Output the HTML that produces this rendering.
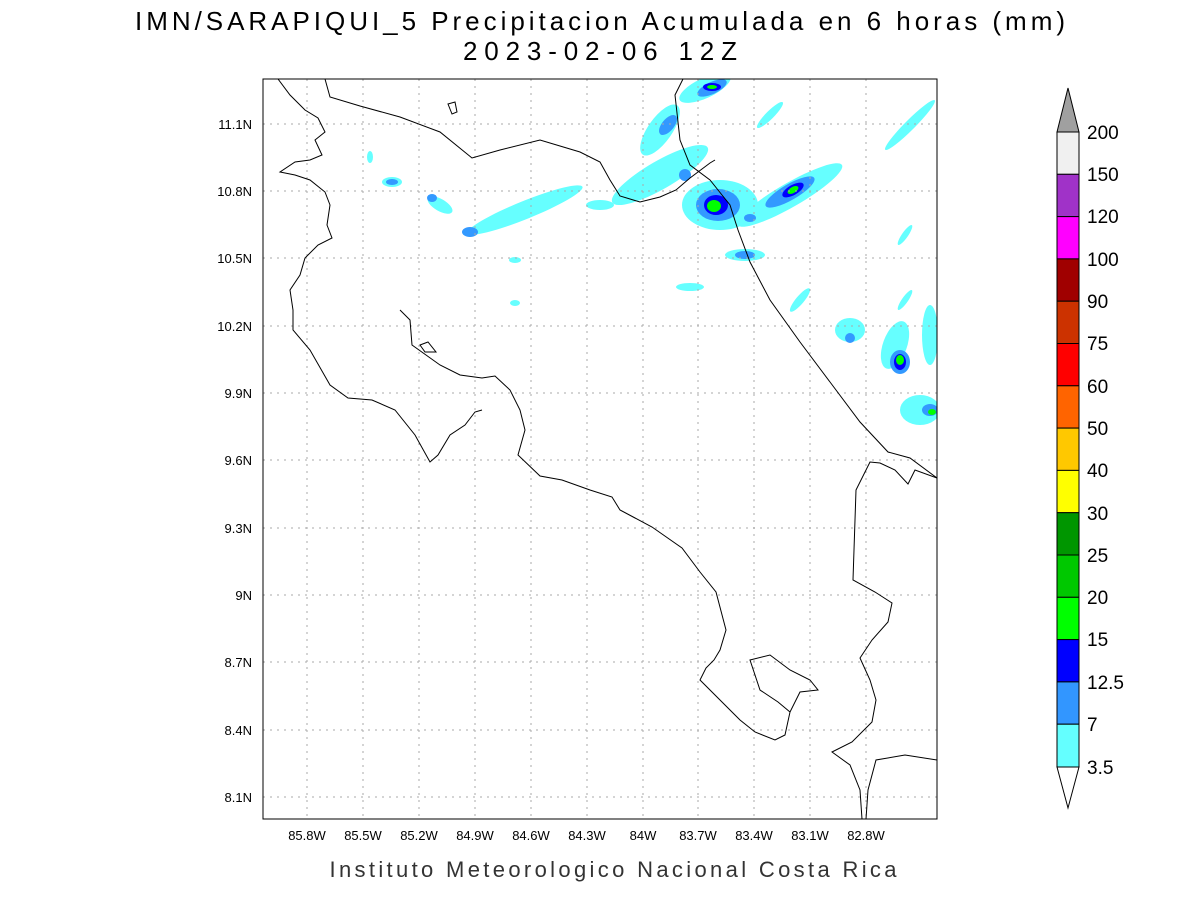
<!DOCTYPE html>
<html><head><style>
body{margin:0;background:#fff;width:1200px;height:900px;overflow:hidden}
text{font-family:"Liberation Sans",sans-serif}
</style></head><body>
<svg width="1200" height="900" xmlns="http://www.w3.org/2000/svg">
<text x="600" y="30" font-size="26" text-anchor="middle" fill="#000" textLength="930">IMN/SARAPIQUI_5 Precipitacion Acumulada en 6 horas (mm)</text>
<text x="600" y="60" font-size="26" text-anchor="middle" fill="#000" textLength="274">2023-02-06 12Z</text>
<defs><clipPath id="c"><rect x="263" y="79" width="674" height="740"/></clipPath></defs>
<g clip-path="url(#c)">
<g fill="#66ffff">
<ellipse cx="525" cy="210" rx="62" ry="9" transform="rotate(-22 525 210)"/>
<ellipse cx="440" cy="205" rx="14" ry="6" transform="rotate(30 440 205)"/>
<ellipse cx="392" cy="182" rx="10" ry="5"/>
<ellipse cx="370" cy="157" rx="3" ry="6"/>
<ellipse cx="600" cy="205" rx="14" ry="5"/>
<ellipse cx="660" cy="130" rx="30" ry="12" transform="rotate(-55 660 130)"/>
<ellipse cx="705" cy="88" rx="28" ry="10" transform="rotate(-25 705 88)"/>
<ellipse cx="660" cy="175" rx="55" ry="14" transform="rotate(-30 660 175)"/>
<ellipse cx="720" cy="205" rx="38" ry="25"/>
<ellipse cx="790" cy="195" rx="60" ry="12" transform="rotate(-30 790 195)"/>
<ellipse cx="770" cy="115" rx="18" ry="4" transform="rotate(-45 770 115)"/>
<ellipse cx="745" cy="255" rx="20" ry="6"/>
<ellipse cx="690" cy="287" rx="14" ry="4"/>
<ellipse cx="910" cy="125" rx="35" ry="5" transform="rotate(-45 910 125)"/>
<ellipse cx="905" cy="235" rx="12" ry="3" transform="rotate(-55 905 235)"/>
<ellipse cx="895" cy="345" rx="12" ry="25" transform="rotate(20 895 345)"/>
<ellipse cx="920" cy="410" rx="20" ry="15"/>
<ellipse cx="930" cy="335" rx="8" ry="30"/>
<ellipse cx="850" cy="330" rx="15" ry="12"/>
<ellipse cx="905" cy="300" rx="12" ry="3" transform="rotate(-55 905 300)"/>
<ellipse cx="800" cy="300" rx="15" ry="4" transform="rotate(-50 800 300)"/>
<ellipse cx="515" cy="303" rx="5" ry="3"/><ellipse cx="515" cy="260" rx="6" ry="3"/>
</g>
<g fill="#3399ff">
<ellipse cx="392" cy="182" rx="6" ry="3"/><ellipse cx="432" cy="198" rx="5" ry="4"/>
<ellipse cx="470" cy="232" rx="8" ry="5"/>
<ellipse cx="668" cy="125" rx="12" ry="6" transform="rotate(-50 668 125)"/>
<ellipse cx="712" cy="88" rx="16" ry="6" transform="rotate(-25 712 88)"/>
<ellipse cx="718" cy="205" rx="22" ry="16"/>
<ellipse cx="790" cy="192" rx="28" ry="8" transform="rotate(-30 790 192)"/>
<ellipse cx="685" cy="175" rx="6" ry="6"/><ellipse cx="750" cy="218" rx="6" ry="4"/>
<ellipse cx="900" cy="362" rx="10" ry="12"/><ellipse cx="930" cy="410" rx="8" ry="6"/>
<ellipse cx="850" cy="338" rx="5" ry="5"/><ellipse cx="745" cy="255" rx="10" ry="4"/>
</g>
<g fill="#0000ff"><ellipse cx="716" cy="205" rx="12" ry="10"/><ellipse cx="712" cy="87" rx="9" ry="4"/><ellipse cx="900" cy="362" rx="6" ry="8"/><ellipse cx="793" cy="190" rx="12" ry="5" transform="rotate(-30 793 190)"/></g>
<g fill="#00ff00"><ellipse cx="714" cy="206" rx="7" ry="6"/><ellipse cx="712" cy="87" rx="5" ry="2"/><ellipse cx="900" cy="360" rx="4" ry="5"/><ellipse cx="793" cy="190" rx="6" ry="3" transform="rotate(-30 793 190)"/><ellipse cx="932" cy="412" rx="4" ry="3"/></g>
<g stroke="#aaa" stroke-dasharray="2,5" stroke-width="1">
<line x1="307" y1="79" x2="307" y2="819"/><line x1="363" y1="79" x2="363" y2="819"/><line x1="419" y1="79" x2="419" y2="819"/><line x1="475" y1="79" x2="475" y2="819"/><line x1="531" y1="79" x2="531" y2="819"/><line x1="587" y1="79" x2="587" y2="819"/><line x1="643" y1="79" x2="643" y2="819"/><line x1="698" y1="79" x2="698" y2="819"/><line x1="754" y1="79" x2="754" y2="819"/><line x1="810" y1="79" x2="810" y2="819"/><line x1="866" y1="79" x2="866" y2="819"/>
<line x1="263" y1="124" x2="937" y2="124"/><line x1="263" y1="191" x2="937" y2="191"/><line x1="263" y1="258" x2="937" y2="258"/><line x1="263" y1="326" x2="937" y2="326"/><line x1="263" y1="393" x2="937" y2="393"/><line x1="263" y1="460" x2="937" y2="460"/><line x1="263" y1="528" x2="937" y2="528"/><line x1="263" y1="595" x2="937" y2="595"/><line x1="263" y1="662" x2="937" y2="662"/><line x1="263" y1="730" x2="937" y2="730"/><line x1="263" y1="797" x2="937" y2="797"/>
</g>
<g fill="none" stroke="#000" stroke-width="1">
<polyline points="278,79 290,95 305,110 318,118 325,132 315,140 322,155 310,160 295,162 280,172 295,175 310,180 325,192 330,205 327,225 332,238 318,245 305,258 300,275 290,290 293,310 293,330 310,350 330,385 348,398 372,400 395,410 415,435 430,462 438,455 450,435 465,425 475,412 482,410"/>
<polyline points="400,310 410,320 412,345 440,365 460,375 482,378 495,376 510,390 520,410 525,430 518,455 540,476 562,480 590,490 612,497 620,510 652,527 682,548 700,572 716,592 726,630 720,650 714,660 706,668 700,680 720,700 740,720 755,732 775,740 785,735 790,712 800,692 818,690 810,680 790,670 770,655 750,660 755,675 760,690 778,702 790,712"/>
<polyline points="325,79 330,97 360,106 400,117 440,132 472,158 500,150 540,140 560,146 580,152 600,162 610,180 620,196 640,202 660,197 676,190 690,178 710,163 715,160"/>
<polyline points="683,79 675,95 680,140 690,165 710,180 722,195 730,205 738,230 750,262 770,300 800,342 830,382 860,422 888,452 910,458 937,478"/>
<polyline points="937,478 915,470 908,484 895,470 880,463 870,462 856,490 853,580 875,592 892,603 888,622 872,640 860,658 870,680 876,700 872,722 852,742 832,752 850,765 860,790 862,819"/>
<polyline points="866,819 868,790 876,760 905,755 937,760"/>
<polygon points="448,104 455,102 457,112 452,114"/>
<polygon points="420,345 428,342 436,352 425,352"/>
</g>
</g>
<rect x="263" y="79" width="674" height="740" fill="none" stroke="#000" stroke-width="1"/>
<g font-size="13" fill="#000" text-anchor="middle">
<text x="307" y="840">85.8W</text><text x="363" y="840">85.5W</text><text x="419" y="840">85.2W</text><text x="475" y="840">84.9W</text><text x="531" y="840">84.6W</text><text x="587" y="840">84.3W</text><text x="643" y="840">84W</text><text x="698" y="840">83.7W</text><text x="754" y="840">83.4W</text><text x="810" y="840">83.1W</text><text x="866" y="840">82.8W</text>
</g>
<g font-size="13" fill="#000" text-anchor="end">
<text x="252" y="129">11.1N</text><text x="252" y="196">10.8N</text><text x="252" y="263">10.5N</text><text x="252" y="331">10.2N</text><text x="252" y="398">9.9N</text><text x="252" y="465">9.6N</text><text x="252" y="533">9.3N</text><text x="252" y="600">9N</text><text x="252" y="667">8.7N</text><text x="252" y="735">8.4N</text><text x="252" y="802">8.1N</text>
</g>
<text x="613" y="877" font-size="22" text-anchor="middle" fill="#333" textLength="567">Instituto Meteorologico Nacional Costa Rica</text>
<g stroke="#000" stroke-width="1">
<polygon points="1057,132 1079,132 1068,88" fill="#a0a0a0"/>
<polygon points="1057,767 1079,767 1068,808" fill="#fff"/>
<rect x="1057" y="132" width="22" height="42.3" fill="#f0f0f0"/>
<rect x="1057" y="174.3" width="22" height="42.3" fill="#a032c8"/>
<rect x="1057" y="216.6" width="22" height="42.3" fill="#ff00ff"/>
<rect x="1057" y="258.9" width="22" height="42.3" fill="#a00000"/>
<rect x="1057" y="301.2" width="22" height="42.3" fill="#cc3200"/>
<rect x="1057" y="343.5" width="22" height="42.3" fill="#ff0000"/>
<rect x="1057" y="385.8" width="22" height="42.3" fill="#ff6400"/>
<rect x="1057" y="428.1" width="22" height="42.3" fill="#ffc800"/>
<rect x="1057" y="470.4" width="22" height="42.3" fill="#ffff00"/>
<rect x="1057" y="512.7" width="22" height="42.3" fill="#009600"/>
<rect x="1057" y="555" width="22" height="42.3" fill="#00c800"/>
<rect x="1057" y="597.3" width="22" height="42.3" fill="#00ff00"/>
<rect x="1057" y="639.6" width="22" height="42.3" fill="#0000ff"/>
<rect x="1057" y="681.9" width="22" height="42.3" fill="#3296ff"/>
<rect x="1057" y="724.2" width="22" height="42.8" fill="#64ffff"/>
</g>
<g font-size="19" fill="#000">
<text x="1087" y="139">200</text><text x="1087" y="181">150</text><text x="1087" y="223">120</text><text x="1087" y="266">100</text><text x="1087" y="308">90</text><text x="1087" y="350">75</text><text x="1087" y="393">60</text><text x="1087" y="435">50</text><text x="1087" y="477">40</text><text x="1087" y="520">30</text><text x="1087" y="562">25</text><text x="1087" y="604">20</text><text x="1087" y="646">15</text><text x="1087" y="689">12.5</text><text x="1087" y="731">7</text><text x="1087" y="774">3.5</text>
</g>
</svg>
</body></html>
